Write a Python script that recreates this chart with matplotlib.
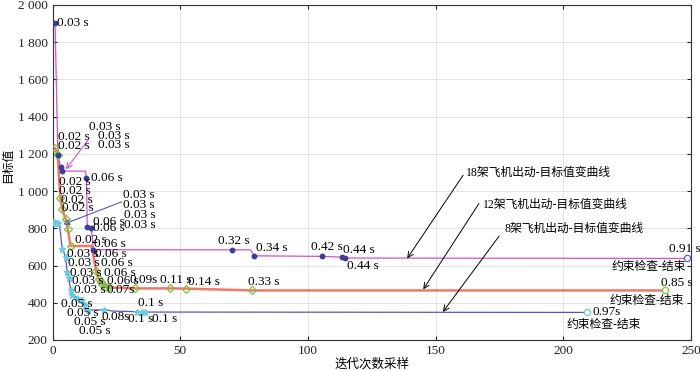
import matplotlib
matplotlib.use("Agg")
import matplotlib.pyplot as plt
from matplotlib.ticker import FuncFormatter

plt.rcParams["font.family"] = ["Liberation Serif", "Noto Sans CJK SC", "DejaVu Sans"]

# ── data ──────────────────────────────────────────────────────────
# 18 aircraft: magenta line, dark dots
x18 = [1.0, 2.1, 3.2, 3.8, 5.5, 12.9, 13.3, 13.6, 15.2, 16.0, 70.4, 77.5, 79.0,
       105.4, 113.5, 114.4, 248.5]
y18 = [1900, 1195, 1130, 1110, 1107, 1107, 1070, 805, 800, 685, 684, 684, 652,
       649, 645, 640, 638]
mark18 = [1, 1, 1, 1, 0, 0, 1, 1, 1, 1, 1, 0, 1, 1, 1, 1, 0]

# 12 aircraft: red line, green diamonds
x12 = [1.0, 2.0, 3.1, 3.8, 5.1, 6.0, 7.05, 15.3, 17.1, 18.1, 18.8, 19.5, 20.8,
       22.3, 32.2, 46.2, 52.1, 78.2, 240.0]
y12 = [1229, 1194, 962, 903, 851, 796, 705, 705, 568, 527, 514, 502, 487,
       482, 477, 477, 476, 466, 466]
mark12 = [1, 1, 1, 1, 1, 1, 1, 0, 1, 1, 1, 1, 1, 1, 1, 1, 1, 1, 0]

# 8 aircraft: blue line, cyan stars
x8 = [0.3, 0.9, 1.5, 2.1, 2.8, 3.8, 5.1, 5.75, 6.4, 7.1, 7.8, 9.5, 11.4, 12.7,
      14.0, 20.1, 24.0, 33.2, 35.1, 36.4, 209.5]
y8 = [835, 833, 830, 826, 815, 687, 648, 563, 532, 468, 441, 428, 414, 387,
      361, 362, 355, 352, 350, 350, 348]
mark8 = [1, 1, 1, 1, 0, 1, 1, 1, 1, 1, 1, 1, 1, 1, 1, 1, 0, 1, 1, 1, 0]

# time labels (text, x, y)
time_labels = [
    ("0.03 s", 1.9, 1900), ("0.03 s", 14.4, 1345), ("0.02 s", 2.3, 1291),
    ("0.03 s", 17.9, 1295), ("0.02 s", 2.3, 1241), ("0.03 s", 17.9, 1245),
    ("0.06 s", 15.0, 1071), ("0.02 s", 2.7, 1046), ("0.02 s", 2.7, 1001),
    ("0.02 s", 3.3, 951), ("0.02 s", 3.6, 907), ("0.03 s", 27.7, 978),
    ("0.03 s", 27.7, 924), ("0.03 s", 28.0, 870), ("0.03 s", 28.0, 820),
    ("0.06 s", 16.0, 835), ("0.06 s", 16.0, 800), ("0.02 s", 8.8, 736),
    ("0.06 s", 16.3, 713), ("0.03 s", 5.6, 660), ("0.03 s", 6.2, 612),
    ("0.03 s", 6.8, 562), ("0.03 s", 7.8, 515), ("0.03 s", 8.6, 468),
    ("0.06 s", 16.6, 660), ("0.06 s", 19.0, 612), ("0.06 s", 20.0, 562),
    ("0.06 s", 21.5, 515), ("0.07s", 21.3, 466), ("0.09s", 30.3, 520),
    ("0.11 s", 42.1, 524), ("0.14 s", 53.0, 510), ("0.33 s", 76.6, 512),
    ("0.32 s", 64.9, 733), ("0.34 s", 79.5, 692), ("0.42 s", 101.2, 697),
    ("0.44 s", 113.6, 683), ("0.44 s", 115.5, 597), ("0.91 s", 241.4, 686),
    ("0.85 s", 238.4, 507), ("0.97s", 211.4, 348), ("0.05 s", 3.3, 393),
    ("0.05 s", 5.6, 343), ("0.05 s", 8.4, 298), ("0.05 s", 10.5, 250),
    ("0.08s", 19.3, 325), ("0.1 s", 33.6, 397), ("0.1 s", 29.7, 311),
    ("0.1 s", 38.8, 311),
]
end_text = "约束检查-结束"
end_pos = [(218.9, 590), (218.0, 410), (201.3, 280)]

curve_names = ["18架飞机出动-目标值变曲线", "12架飞机出动-目标值变曲线", "8架飞机出动-目标值变曲线"]
name_pos = [(162.1, 1095), (168.6, 928), (177.1, 799)]
arrow_from = [(160.8, 1085), (167.0, 933), (174.9, 758)]
arrow_to = [(138.9, 638), (145.2, 472), (152.9, 351)]

C_MAG = "#d452c4"
C_DOT = "#3d3d99"
C_RED = "#f27766"
C_GRN = "#7cc242"
C_BLU = "#5757b5"
C_CYA = "#6ccbe0"

fig = plt.figure(figsize=(7, 3.71), dpi=100)
ax = fig.add_axes([0.075, 0.0836, 0.912, 0.9034])

ax.plot(x8, y8, color=C_BLU, lw=0.9, zorder=2)
ax.plot(x12, y12, color=C_RED, lw=1.8, zorder=2)
ax.plot(x18, y18, color=C_MAG, lw=0.9, zorder=3)

def pick(xs, ys, m):
    return [a for a, k in zip(xs, m) if k], [b for b, k in zip(ys, m) if k]

px, py = pick(x8, y8, mark8)
ax.plot(px, py, ls="none", marker="*", ms=5, color=C_CYA, zorder=4)
px, py = pick(x12, y12, mark12)
ax.plot(px, py, ls="none", marker="D", ms=4, mfc="none", mec=C_GRN, mew=0.9, zorder=4)
px, py = pick(x18, y18, mark18)
ax.plot(px, py, ls="none", marker="o", ms=3.2, color=C_DOT, zorder=5)

# end markers
ax.plot(x18[-1], y18[-1], marker="o", ms=4.5, mfc="white", mec="#6a5acd", mew=0.9, zorder=6)
ax.plot(x12[-1], y12[-1], marker="o", ms=4.5, mfc="white", mec=C_GRN, mew=0.9, zorder=6)
ax.plot(x8[-1], y8[-1], marker="o", ms=4.5, mfc="white", mec=C_CYA, mew=0.9, zorder=6)

for t, x, y in time_labels:
    ax.text(x, y, t, fontsize=9.5, ha="left", va="center", clip_on=False, zorder=7)
for x, y in end_pos:
    ax.text(x, y, end_text, fontsize=8.5, ha="left", va="center", zorder=7)

for name, (tx, ty), a0, a1 in zip(curve_names, name_pos, arrow_from, arrow_to):
    ax.text(tx, ty, name, fontsize=8.5, ha="left", va="center")
    ax.annotate("", xy=a1, xytext=a0,
                arrowprops=dict(arrowstyle="->", color="black", lw=0.7,
                                shrinkA=0, shrinkB=0))

# small pointer arrows in the dense region
ax.annotate("", xy=(5.2, 1116), xytext=(14.0, 1275),
            arrowprops=dict(arrowstyle="->", color=C_MAG, lw=0.8, shrinkA=0, shrinkB=0))
ax.annotate("", xy=(4.2, 821), xytext=(27.1, 942),
            arrowprops=dict(arrowstyle="-|>", color=C_BLU, lw=0.8, shrinkA=0, shrinkB=0,
                            mutation_scale=9))

ax.set_xlim(0, 250)
ax.set_ylim(200, 2000)
ax.set_xticks(range(0, 251, 50))
ax.set_yticks(range(200, 2001, 200))
ax.yaxis.set_major_formatter(FuncFormatter(lambda v, p: f"{int(v):,}".replace(",", " ")))
ax.tick_params(direction="in", length=3, labelsize=9.5, top=True, right=True,
               colors="#222222")
ax.grid(color="#dedede", lw=0.6)
ax.set_axisbelow(True)
for s in ax.spines.values():
    s.set_color("#333333")
    s.set_linewidth(0.8)

ax.set_xlabel("迭代次数采样", fontsize=9, labelpad=1)
fig.text(0.012, 0.555, "目标值", rotation=90, fontsize=8.5, ha="center", va="center")

fig.savefig("out.png", dpi=100)
